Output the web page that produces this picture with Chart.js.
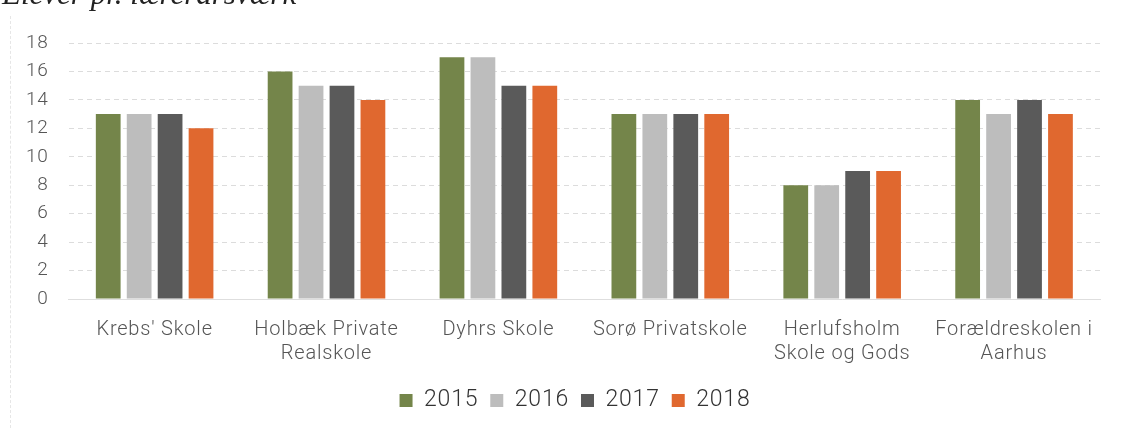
<!DOCTYPE html>
<html>
<head>
<meta charset="utf-8">
<script src="https://cdn.jsdelivr.net/npm/chart.js@4/dist/chart.umd.min.js"></script>
<style>
  html, body { margin: 0; padding: 0; background: #fff; overflow: hidden; }
  #wrap { position: relative; width: 1122px; height: 428px; }
  #title { position: absolute; left: 2px; top: -21px; line-height: 30px; font-family: "Liberation Serif", serif; font-style: italic; font-size: 31px; color: #222; white-space: nowrap; }
  #edge { position: absolute; left: 10px; top: 16px; height: 412px; border-left: 1px dashed #e6e6e6; }
  canvas { position: absolute; left: 0; top: 0; }
</style>
</head>
<body>
<div id="wrap">
  <canvas id="c" width="1122" height="428"></canvas>
  <div id="edge"></div>
  <div id="title">Elever pr. lærerårsværk</div>
</div>
<script>
const categories = [["Krebs' Skole"], ["Holbæk Private", "Realskole"], ["Dyhrs Skole"], ["Sorø Privatskole"], ["Herlufsholm", "Skole og Gods"], ["Forældreskolen i", "Aarhus"]];
const seriesNames = ["2015", "2016", "2017", "2018"];
const v2015 = [13, 16, 17, 13, 8, 14];
const v2016 = [13, 15, 17, 13, 8, 13];
const v2017 = [13, 15, 15, 13, 9, 14];
const v2018 = [12, 14, 15, 13, 9, 13];
const colors = ["#74854a", "#bdbdbd", "#5a5a5a", "#e0682f"];

const values = [v2015, v2016, v2017, v2018];
const spacing = {
  id: 'spacing',
  beforeUpdate(chart) { chart.ctx.letterSpacing = '0.8px'; },
  beforeDraw(chart) { chart.ctx.letterSpacing = '0.8px'; },
  afterLayout(chart) { chart.legend.left += 22; chart.legend.right += 22; }
};
const chart = new Chart(document.getElementById('c'), {
  type: 'bar',
  data: {
    labels: categories,
    datasets: seriesNames.map((n, i) => ({
      label: n,
      data: values[i],
      backgroundColor: colors[i],
      borderWidth: 0,
      categoryPercentage: 0.72,
      barPercentage: 0.8
    }))
  },
  plugins: [spacing],
  options: {
    responsive: false,
    animation: false,
    layout: { padding: { left: 6, right: 22, top: 43, bottom: 6 } },
    scales: {
      x: {
        grid: { display: false },
        border: { display: true, color: '#dedede' },
        ticks: { color: '#555', font: { family: 'Roboto', size: 20, weight: 300 }, maxRotation: 0, autoSkip: false, padding: 11 }
      },
      y: {
        min: 0, max: 18,
        ticks: { stepSize: 2, color: '#555', font: { family: 'Roboto', size: 19, weight: 300 }, padding: 20 },
        grid: { color: '#dcdcdc', drawTicks: false },
        border: { display: false, dash: [5, 4] }
      }
    },
    plugins: {
      legend: {
        position: 'bottom',
        labels: { color: '#333', font: { family: 'Roboto', size: 23, weight: 300 }, boxWidth: 13, boxHeight: 13, padding: 12 }
      },
      tooltip: { enabled: false }
    }
  }
});
</script>
</body>
</html>
